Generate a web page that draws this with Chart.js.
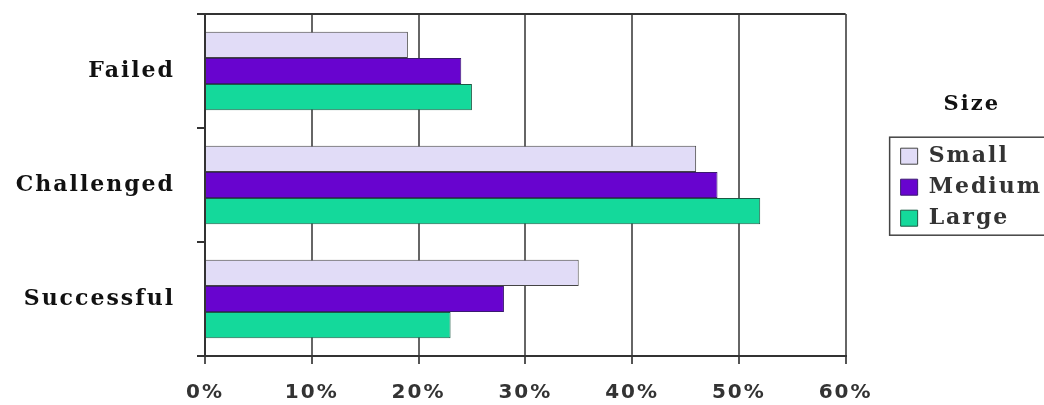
<!DOCTYPE html>
<html>
<head>
<meta charset="utf-8">
<script src="https://cdn.jsdelivr.net/npm/chart.js@4"></script>
<style>
    html, body { margin: 0; padding: 0; background: #fff; }
    #wrap { width: 1044px; height: 405px; }
</style>
</head>
<body>
<div id="wrap"><canvas id="chart"></canvas></div>
<script>
// Project outcome by size
const outcomes = ['Failed', 'Challenged', 'Successful'];
const small = [19, 46, 35];
const medium = [24, 48, 28];
const large = [25, 52, 23];
const xTicks = [0, 10, 20, 30, 40, 50, 60];

// wider letter spacing, like the old picture
const spacing = {
    id: 'spacing',
    beforeLayout(chart) { chart.ctx.letterSpacing = '2px'; },
    beforeDraw(chart) { chart.ctx.letterSpacing = '2px'; }
};

// frame round the legend items
const legendFrame = {
    id: 'legendFrame',
    afterDraw(chart) {
        const boxes = chart.legend.legendHitBoxes;
        if (!boxes || !boxes.length) return;
        const first = boxes[0];
        const last = boxes[boxes.length - 1];
        const ctx = chart.ctx;
        ctx.save();
        ctx.strokeStyle = '#444';
        ctx.lineWidth = 1.5;
        ctx.strokeRect(first.left - 11, first.top - 8, chart.width + 20, last.top + last.height + 6 - (first.top - 8));
        ctx.restore();
    }
};

const ctx = document.getElementById('chart').getContext('2d');
const chart = new Chart(ctx, {
    type: 'bar',
    data: {
        labels: outcomes,
        datasets: [
            { label: 'Small', data: small, backgroundColor: '#e1dcf7', borderColor: '#444', borderWidth: 1 },
            { label: 'Medium', data: medium, backgroundColor: '#6804cf', borderColor: '#3a1a70', borderWidth: 1 },
            { label: 'Large', data: large, backgroundColor: '#14d99b', borderColor: '#1c5a44', borderWidth: 1 }
        ]
    },
    options: {
        indexAxis: 'y',
        responsive: true,
        maintainAspectRatio: false,
        animation: false,
        categoryPercentage: 0.69,
        barPercentage: 1.0,
        layout: { padding: { top: 14, bottom: 0, left: 0, right: -8 } },
        plugins: {
            tooltip: { enabled: false },
            legend: {
                position: 'right',
                align: 'start',
                title: {
                    display: true,
                    text: 'Size',
                    color: '#111',
                    font: { family: 'DejaVu Serif', weight: 'bold', size: 21 },
                    padding: { top: 80, bottom: 17 }
                },
                labels: {
                    color: '#333',
                    font: { family: 'DejaVu Serif', weight: 'bold', size: 22 },
                    boxWidth: 17,
                    boxHeight: 16,
                    padding: 9
                }
            }
        },
        scales: {
            x: {
                min: 0,
                max: 60,
                afterBuildTicks: scale => { scale.ticks = xTicks.map(v => ({ value: v })); },
                afterFit: scale => { scale.height = 49; },
                ticks: {
                    color: '#333',
                    padding: 17,
                    font: { family: 'DejaVu Sans', weight: 'bold', size: 20 },
                    callback: v => v + '%'
                },
                grid: { color: '#666', lineWidth: 2, tickLength: 8, tickColor: '#555' },
                border: { color: '#333', width: 2 }
            },
            y: {
                afterFit: scale => {
                    scale.width = 205;
                    scale.paddingTop = 0;
                    scale.paddingBottom = 0;
                },
                ticks: {
                    color: '#111',
                    padding: 22,
                    font: { family: 'DejaVu Serif', weight: 'bold', size: 22 }
                },
                grid: {
                    offset: true,
                    tickLength: 8,
                    lineWidth: 2,
                    tickColor: '#333',
                    color: c => (c.index === 0 || c.index === outcomes.length) ? '#333' : 'rgba(0,0,0,0)'
                },
                border: { color: '#333', width: 2 }
            },
            gap: {
                type: 'category',
                position: 'right',
                labels: outcomes,
                afterFit: scale => { scale.width = 46; },
                ticks: { display: false },
                grid: { display: false },
                border: { display: false }
            }
        }
    },
    plugins: [spacing, legendFrame]
});
</script>
</body>
</html>
